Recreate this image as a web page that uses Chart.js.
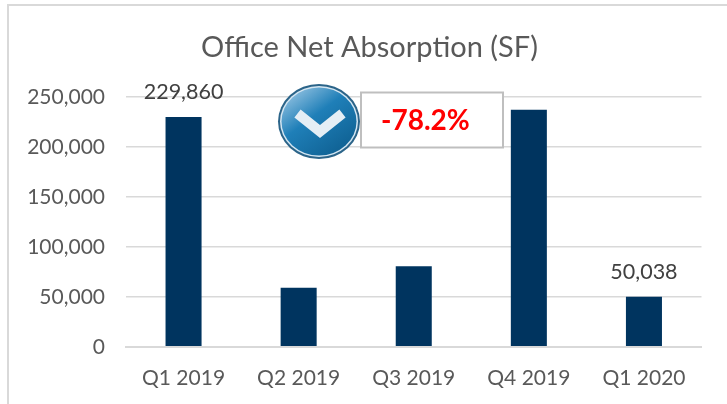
<!DOCTYPE html>
<html><head><meta charset="utf-8">
<style>html,body{margin:0;padding:0;background:#fff}#w{position:relative;width:727px;height:404px}</style>
<script src="https://cdn.jsdelivr.net/npm/chart.js@4"></script>
</head><body><div id="w"><canvas id="c" width="727" height="404"></canvas></div>
<script>
const categories = ["Q1 2019","Q2 2019","Q3 2019","Q4 2019","Q1 2020"];
const absorption = [229860,59000,80500,237000,50038];
const labelled = [0,4];
const chartTitle = "Office Net Absorption (SF)";
const calloutText = "-78.2%";
const FONT = "Lato, Carlito, sans-serif";

const decor = {
  id:"decor",
  afterLayout(ch){ ch.titleBlock.left+=18.75; ch.titleBlock.right+=18.75; },
  beforeDraw(ch){
    const g=ch.ctx; g.save();
    g.fillStyle="#fff"; g.fillRect(0,0,727,404);
    g.strokeStyle="#d9d9d9"; g.lineWidth=2;
    g.beginPath(); g.moveTo(8,404); g.lineTo(8,5); g.lineTo(727,5); g.stroke();
    g.restore();
  },
  afterDraw(ch){
    const g=ch.ctx, m=ch.getDatasetMeta(0); g.save();
    g.fillStyle="#404040"; g.font="21.5px "+FONT; g.textAlign="center"; g.textBaseline="bottom";
    labelled.forEach(i=>g.fillText(absorption[i].toLocaleString("en-US"),m.data[i].x,m.data[i].y-14));
    // badge
    const cx=319,cy=121.5,rx=41,ry=37.5;
    g.beginPath(); g.ellipse(cx,cy,rx,ry,0,0,7); g.fillStyle="#2b6489"; g.fill();
    g.beginPath(); g.ellipse(cx,cy,rx-2,ry-2,0,0,7); g.fillStyle="#d4e6f2"; g.fill();
    const gr=g.createLinearGradient(cx-25,cy-32,cx+22,cy+32);
    gr.addColorStop(0,"#8fc0e0"); gr.addColorStop(.42,"#1f7fb8"); gr.addColorStop(1,"#0f6193");
    g.beginPath(); g.ellipse(cx,cy,rx-3.5,ry-3.5,0,0,7); g.fillStyle=gr; g.fill();
    g.strokeStyle="#e4eef5"; g.lineWidth=10; g.lineCap="butt"; g.lineJoin="miter";
    g.beginPath(); g.moveTo(cx-21.5,cy-8); g.lineTo(cx+1,cy+10); g.lineTo(cx+23.5,cy-8); g.stroke();
    // callout box
    g.fillStyle="#fff"; g.strokeStyle="#bfbfbf"; g.lineWidth=2;
    g.fillRect(361,92.5,142,55); g.strokeRect(361,92.5,142,55);
    g.fillStyle="#ff0000"; g.font="bold 28px "+FONT; g.textAlign="left"; g.textBaseline="middle";
    g.fillText(calloutText,381,121);
    g.restore();
  }
};

new Chart(document.getElementById("c"),{
  type:"bar",
  data:{labels:categories,datasets:[{data:absorption,backgroundColor:"#00345f",barPercentage:.313,categoryPercentage:1}]},
  options:{
    responsive:false,animation:false,
    layout:{padding:{left:0,right:25.5,top:0,bottom:2}},
    plugins:{
      legend:{display:false},tooltip:{enabled:false},
      title:{display:true,text:chartTitle,color:"#595959",font:{family:FONT,size:29,weight:"normal"},padding:{top:30,bottom:32}}
    },
    scales:{
      x:{grid:{display:false},border:{color:"#d9d9d9",width:2},
         ticks:{color:"#595959",font:{family:FONT,size:21},padding:11,maxRotation:0}},
      y:{min:0,max:250000,grid:{color:"#d9d9d9",lineWidth:1.5,drawTicks:false},border:{display:false},
         afterFit(s){s.width=126},
         ticks:{stepSize:50000,color:"#595959",font:{family:FONT,size:21},padding:21,callback:v=>v.toLocaleString("en-US")}}
    }
  },
  plugins:[decor]
});
</script></body></html>
